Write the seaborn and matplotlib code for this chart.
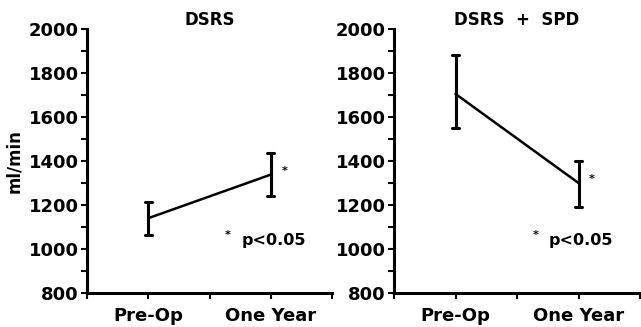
import matplotlib
matplotlib.use("Agg")
import matplotlib.pyplot as plt
import seaborn as sns
import pandas as pd
from matplotlib.ticker import MultipleLocator, FixedLocator, FixedFormatter

# ---- data ----
times = ["Pre-Op", "One Year"]
panels = ["DSRS", "DSRS  +  SPD"]
dsrs_mean = [1140, 1338]
dsrs_low = [1064, 1240]
dsrs_high = [1214, 1436]
spd_mean = [1705, 1300]
spd_low = [1548, 1192]
spd_high = [1880, 1398]
sig_label = "p<0.05"
ylabel = "ml/min"

def make_df(mean, low, high):
    rows = []
    for t, m, lo, hi in zip(times, mean, low, high):
        for v in (lo, m, hi):
            rows.append({"time": t, "value": v})
    return pd.DataFrame(rows)

sns.set_style("ticks")
plt.rcParams["font.family"] = ["DejaVu Sans"]
plt.rcParams["text.color"] = "black"
plt.rcParams["xtick.color"] = "black"
plt.rcParams["ytick.color"] = "black"
plt.rcParams["axes.labelcolor"] = "black"
plt.rcParams["axes.edgecolor"] = "black"

fig = plt.figure(figsize=(6.41, 3.27), dpi=100)
ax1 = fig.add_axes([87/641, 1-293/327, 245/641, 264/327])
ax2 = fig.add_axes([394/641, 1-293/327, 246/641, 264/327])

datasets = [(dsrs_mean, dsrs_low, dsrs_high), (spd_mean, spd_low, spd_high)]
star_y = [1362, 1327]
for ax, title, (m, lo, hi), sy in zip([ax1, ax2], panels, datasets, star_y):
    df = make_df(m, lo, hi)
    sns.pointplot(data=df, x="time", y="value", estimator="median",
                  errorbar=("pi", 100), capsize=0.06, color="black",
                  markers="", linewidth=1.8,
                  err_kws={"linewidth": 2.2}, ax=ax)
    ax.set_xlim(-0.5, 1.5)
    ax.set_ylim(800, 2000)
    ax.xaxis.set_major_locator(FixedLocator([-0.5, 0, 0.5, 1, 1.5]))
    ax.xaxis.set_major_formatter(FixedFormatter(["", times[0], "", times[1], ""]))
    ax.yaxis.set_major_locator(MultipleLocator(200))
    ax.yaxis.set_minor_locator(MultipleLocator(100))
    ax.tick_params(axis="both", which="major", length=4, width=1.5,
                   labelsize=13, direction="out", pad=2, color="black",
                   labelcolor="black")
    ax.tick_params(axis="y", which="minor", length=4, width=1.5, color="black")
    ax.tick_params(axis="x", which="major", length=4, pad=6)
    for lab in ax.get_xticklabels() + ax.get_yticklabels():
        lab.set_fontweight("bold")
    for s in ["top", "right"]:
        ax.spines[s].set_visible(False)
    for s in ["left", "bottom"]:
        ax.spines[s].set_linewidth(2.2)
    ax.set_xlabel("")
    ax.set_ylabel("")
    ax.set_title(title, fontsize=12, fontweight="bold", pad=3, color="black")
    ax.text(1.11, sy - 8, "*", fontsize=8, fontweight="bold", ha="center", va="center")
    ax.text(0.65, 1065, "*", fontsize=8, fontweight="bold", ha="center", va="center")
    ax.text(0.76, 1040, sig_label, fontsize=11.5, fontweight="bold", ha="left", va="center")

ax1.set_ylabel(ylabel, fontsize=12, fontweight="bold", labelpad=4, color="black")

fig.savefig("out.png", dpi=100)
